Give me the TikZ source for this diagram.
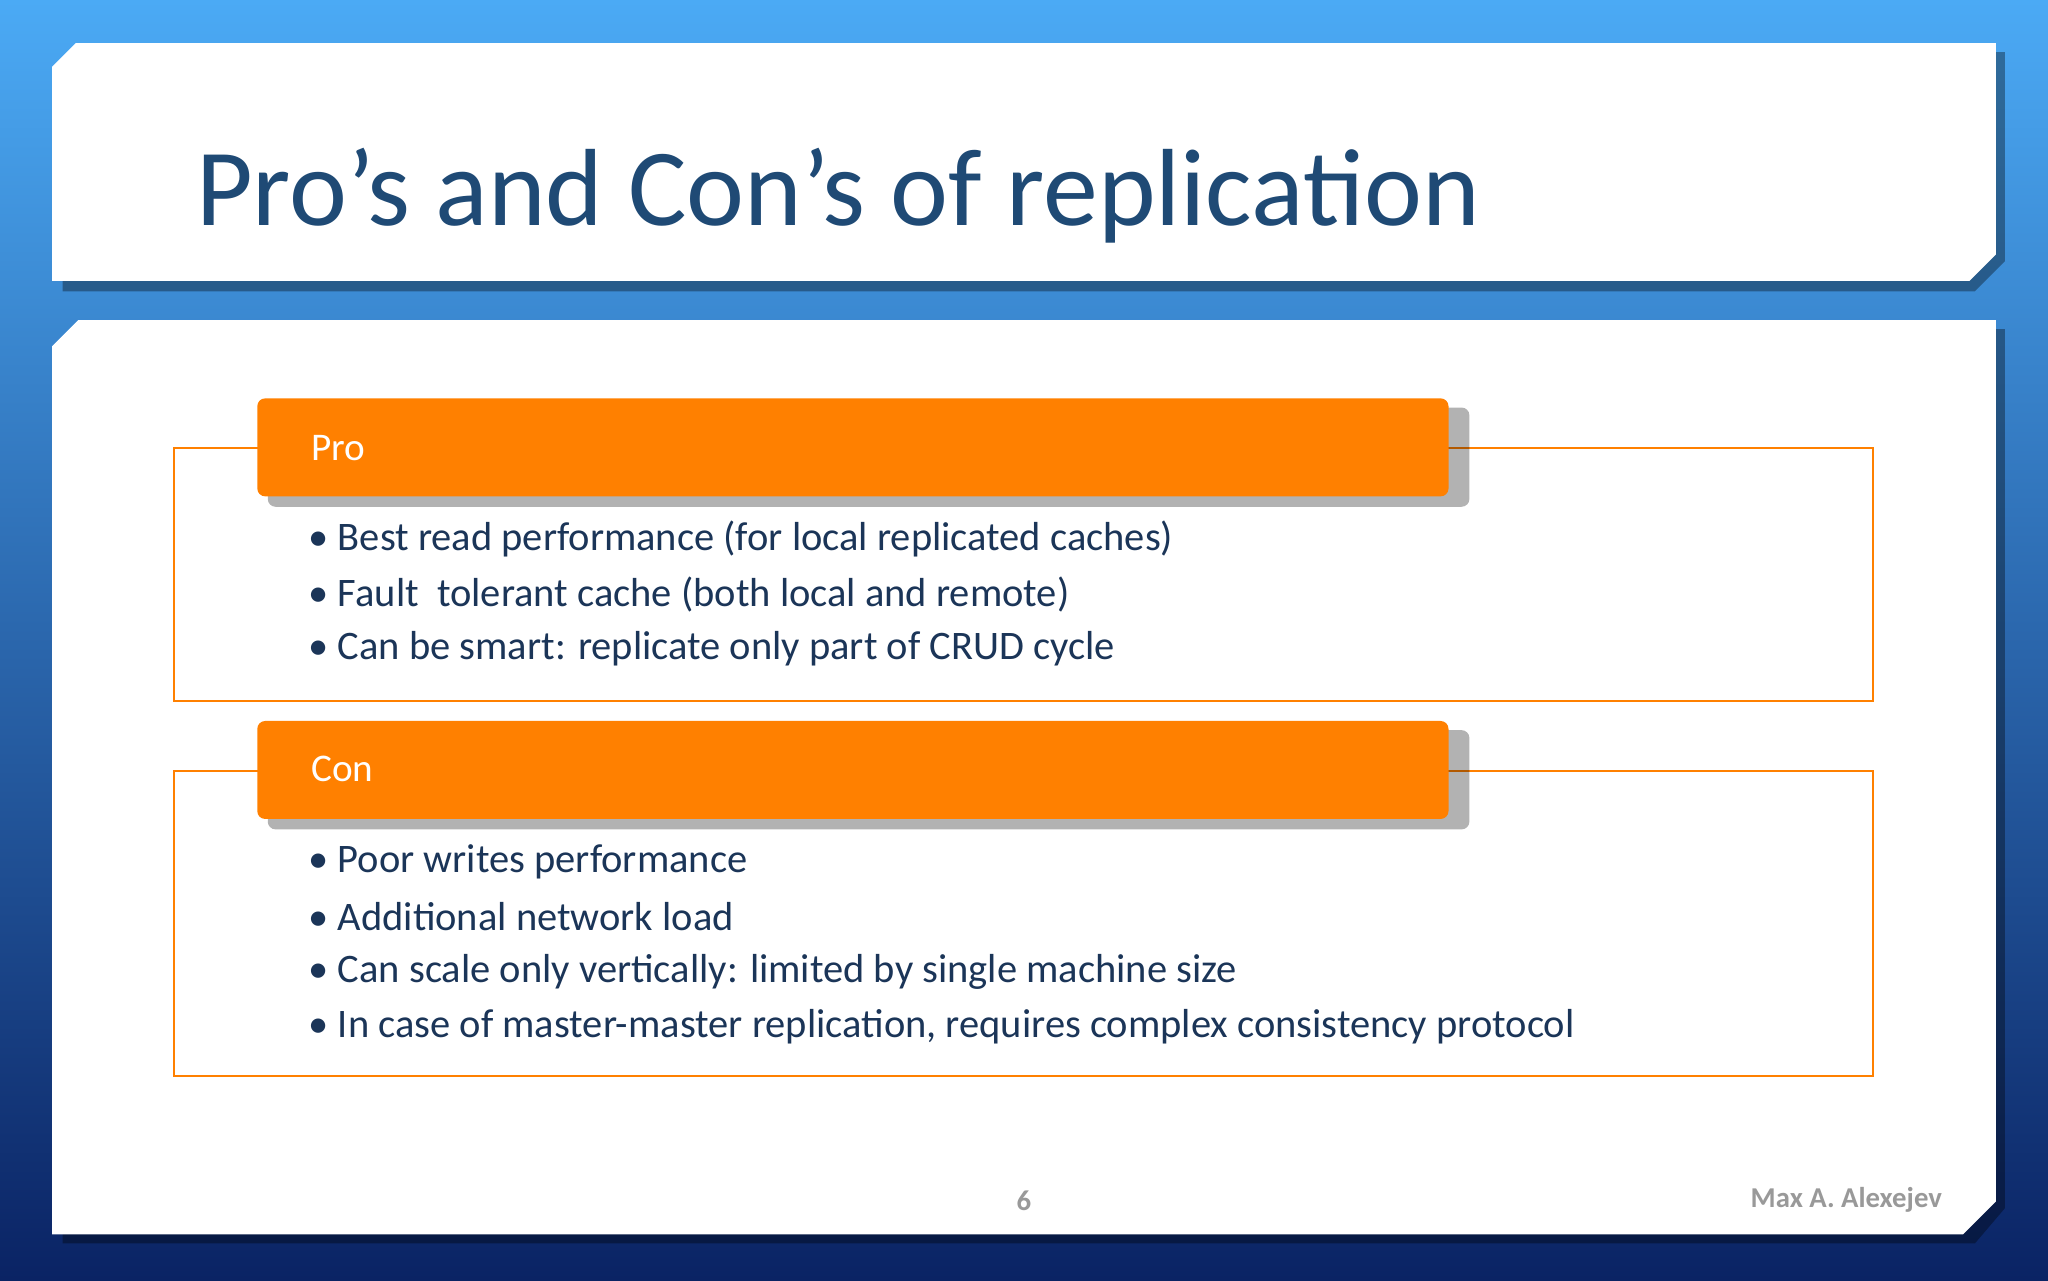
\documentclass[tikz,border=0pt]{standalone}
\usepackage{fontspec}
\setmainfont{Carlito}
\definecolor{navy}{HTML}{1B3558}
\definecolor{ttl}{HTML}{1F4A75}
\definecolor{org}{HTML}{FF8000}
\begin{document}
\begin{tikzpicture}[x=1pt,y=-1pt,
 bul/.style={anchor=west,text=navy,font=\fontsize{31}{36}\selectfont,inner sep=0},
 hdr/.style={anchor=west,text=white,font=\fontsize{30}{36}\selectfont,inner sep=0},
 ftr/.style={text=gray!80,font=\bfseries\fontsize{22}{26}\selectfont,inner sep=0}]
\useasboundingbox (0,0) rectangle (1568,980);
\shade[top color={rgb,255:red,75;green,170;blue,245},bottom color={rgb,255:red,10;green,35;blue,100}] (0,0) rectangle (1568,980);
% title panel
\fill[black,opacity=0.35] (62,40) -- (1535,40) -- (1535,200) -- (1512,223) -- (48,223) -- (48,55) -- cycle;
\fill[white] (58,33) -- (1528,33) -- (1528,195) -- (1508,215) -- (40,215) -- (40,51) -- cycle;
\node[anchor=west,text=ttl,font=\fontsize{84}{90}\selectfont,inner sep=0] (title) at (150,150) {Pro’s and Con’s of replication};
% body panel
\fill[black,opacity=0.35] (62,252) -- (1535,252) -- (1535,925) -- (1512,952) -- (48,952) -- (48,268) -- cycle;
\fill[white] (60,245) -- (1528,245) -- (1528,920) -- (1503,945) -- (40,945) -- (40,265) -- cycle;
% Pro
\draw[org,line width=1.5] (133,343) rectangle (1434,537);
\fill[black,opacity=0.3,rounded corners=6] (205,312) rectangle (1125,388);
\fill[org,rounded corners=6] (197,305) rectangle (1109,380);
\node[hdr] (pro) at (238,343) {Pro};
\node[bul] (p1) at (236,413) {• Best read performance (for local replicated caches)};
\node[bul] (p2) at (236,455) {• Fault\ \ tolerant cache (both local and remote)};
\node[bul] (p3) at (236,497) {• Can be smart: replicate only part of CRUD cycle};
% Con
\draw[org,line width=1.5] (133,590) rectangle (1434,824);
\fill[black,opacity=0.3,rounded corners=6] (205,559) rectangle (1125,635);
\fill[org,rounded corners=6] (197,552) rectangle (1109,627);
\node[hdr] (con) at (238,589) {Con};
\node[bul] (c1) at (236,660) {• Poor writes performance};
\node[bul] (c2) at (236,702) {• Additional network load};
\node[bul] (c3) at (236,744) {• Can scale only vertically: limited by single machine size};
\node[bul] (c4) at (236,786) {• In case of master-master replication, requires complex consistency protocol};
\node[ftr] (pg) at (784,919) {6};
\node[ftr,anchor=east] (au) at (1487,919) {Max A. Alexejev};
\end{tikzpicture}
\end{document}
